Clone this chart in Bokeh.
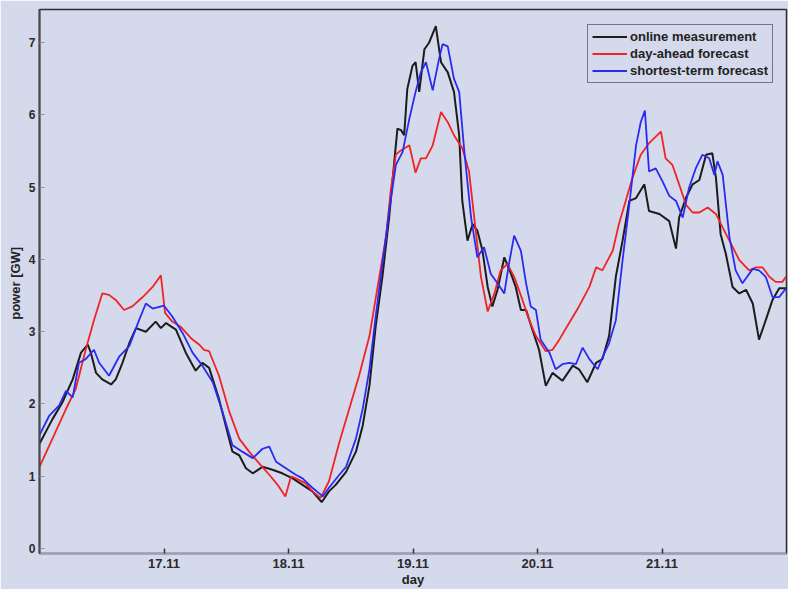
from bokeh.plotting import figure
from bokeh.models import Range1d, FixedTicker, Legend, LegendItem
from bokeh.embed import file_html
from bokeh.resources import INLINE

# ---- data (hours since 16.11 00:00, power in GW) ----
hours_meas = [0, 2.5, 4.4, 6.4, 8.0, 9.3, 9.9, 10.9, 12.1, 13.8, 14.7, 16.0, 17.3, 18.6, 20.5, 22.4,
              23.4, 24.4, 26.3, 28.2, 30.1, 31.4, 32.7, 34.6, 35.9, 37.2, 38.5, 39.8, 41.1, 43.0,
              44.9, 46.8, 48.8, 50.7, 52.6, 54.4, 55.8, 57.1, 59.1, 61.0, 62.3, 63.6, 64.8, 66.1,
              67.4, 68.4, 69.0, 69.7, 70.3, 70.9, 71.9, 72.5, 73.2, 74.2, 75.1, 76.4, 77.4, 78.7,
              79.9, 80.9, 81.5, 82.5, 83.5, 84.4, 85.4, 86.4, 87.3, 88.3, 89.6, 90.9, 91.8, 92.8,
              93.8, 95.0, 96.3, 97.6, 98.9, 100.8, 102.8, 104.0, 105.6, 107.3, 108.5, 109.8, 111.1,
              112.4, 113.7, 115.0, 116.6, 117.5, 119.5, 121.4, 122.7, 123.3, 124.6, 125.9, 127.2,
              128.5, 129.7, 130.4, 131.3, 132.3, 133.6, 134.9, 136.2, 137.5, 138.7, 140.0, 141.3,
              142.6, 143.9]
power_meas = [1.45, 1.79, 2.02, 2.34, 2.71, 2.82, 2.71, 2.43, 2.34, 2.27, 2.34, 2.57, 2.84, 3.05, 3.00, 3.14,
              3.05, 3.12, 3.03, 2.71, 2.46, 2.57, 2.50, 2.07, 1.70, 1.34, 1.29, 1.11, 1.04, 1.13,
              1.09, 1.04, 0.97, 0.88, 0.79, 0.64, 0.79, 0.88, 1.06, 1.34, 1.70, 2.25, 3.07, 3.76,
              4.58, 5.36, 5.81, 5.79, 5.72, 6.36, 6.68, 6.73, 6.32, 6.91, 7.00, 7.23, 6.73, 6.59,
              6.32, 5.72, 4.81, 4.26, 4.49, 4.40, 4.12, 3.62, 3.35, 3.58, 4.03, 3.80, 3.62, 3.30,
              3.30, 3.03, 2.75, 2.25, 2.43, 2.32, 2.53, 2.48, 2.30, 2.57, 2.62, 2.94, 3.76,
              4.26, 4.81, 4.85, 5.04, 4.67, 4.63, 4.53, 4.15, 4.58, 4.85, 5.04, 5.10,
              5.45, 5.47, 5.13, 4.35, 4.08, 3.62, 3.53, 3.58, 3.39, 2.89, 3.16, 3.44,
              3.60, 3.60]

hours_dayahead = [0, 2.5, 5.1, 7.0, 8.9, 10.5, 12.1, 13.4, 14.7, 16.3, 17.9, 19.9, 21.8, 23.4, 24.2, 25.6,
                  27.2, 29.2, 30.8, 31.7, 32.7, 34.6, 36.6, 38.5, 40.4, 42.3, 44.3, 45.9, 47.4, 48.5,
                  49.4, 51.3, 52.6, 54.2, 55.8, 57.8, 59.7, 61.6, 63.6, 65.5, 66.8, 67.7, 68.7, 69.3,
                  71.3, 72.5, 73.5, 74.5, 75.8, 77.4, 78.7, 79.9, 81.5, 82.8, 83.8, 85.1, 86.4, 87.7,
                  88.9, 90.2, 91.5, 93.1, 94.4, 95.7, 97.6, 98.9, 100.2, 102.1, 104.0, 106.0, 107.3,
                  108.5, 110.5, 111.7, 113.0, 114.3, 115.9, 117.5, 118.5, 119.8, 120.7, 122.0, 123.3,
                  124.6, 125.9, 127.2, 128.8, 130.4, 131.7, 133.0, 134.9, 136.8, 138.1, 139.4, 140.7,
                  141.9, 143.2, 143.9]
power_dayahead = [1.13, 1.52, 1.93, 2.21, 2.75, 3.16, 3.53, 3.51, 3.44, 3.30, 3.35, 3.48, 3.62, 3.78, 3.26, 3.14,
                  3.07, 2.91, 2.82, 2.75, 2.73, 2.39, 1.89, 1.52, 1.34, 1.18, 1.02, 0.88, 0.72, 1.00,
                  0.97, 0.90, 0.79, 0.70, 0.93, 1.47, 1.93, 2.39, 2.94, 3.76, 4.31, 4.95, 5.45, 5.49,
                  5.58, 5.20, 5.40, 5.40, 5.58, 6.04, 5.90, 5.72, 5.54, 5.22, 4.58, 3.76, 3.28, 3.53,
                  3.85, 3.94, 3.76, 3.44, 3.16, 2.94, 2.73, 2.75, 2.89, 3.12, 3.35, 3.62, 3.89,
                  3.85, 4.12, 4.49, 4.81, 5.13, 5.45, 5.61, 5.68, 5.77, 5.40, 5.31, 5.04,
                  4.76, 4.65, 4.65, 4.72, 4.63, 4.44, 4.26, 3.99, 3.85, 3.89, 3.89, 3.76,
                  3.69, 3.69, 3.76]

hours_short = [0, 1.9, 3.8, 5.1, 6.4, 7.6, 8.9, 10.5, 11.5, 13.4, 15.4, 17.3, 19.2, 20.5, 21.8, 24.0,
               25.6, 27.6, 29.5, 31.4, 33.4, 35.3, 37.2, 39.1, 41.1, 43.0, 44.3, 45.6, 47.5, 49.4,
               50.7, 52.6, 54.6, 55.8, 57.8, 59.1, 61.0, 62.3, 63.6, 64.8, 66.1, 67.4, 68.7, 70.0,
               71.3, 72.5, 73.5, 74.5, 75.8, 77.0, 77.7, 78.7, 79.9, 80.9, 81.9, 83.2, 84.4, 85.7,
               87.0, 88.3, 89.6, 90.5, 91.5, 92.8, 93.8, 94.7, 95.7, 96.6, 98.3, 99.5, 100.8, 102.1,
               103.4, 104.7, 106.0, 107.6, 108.5, 109.8, 111.1, 112.4, 113.7, 115.0, 115.9, 116.7,
               117.5, 118.8, 120.1, 121.4, 122.7, 124.0, 125.2, 126.5, 127.8, 129.1, 130.1, 130.7,
               131.7, 133.0, 134.2, 135.5, 137.5, 138.7, 140.0, 141.3, 142.6, 143.9]
power_short = [1.57, 1.84, 1.98, 2.18, 2.09, 2.57, 2.62, 2.75, 2.57, 2.39, 2.66, 2.80, 3.16, 3.39, 3.32, 3.36,
               3.21, 2.98, 2.71, 2.53, 2.30, 1.89, 1.43, 1.34, 1.25, 1.38, 1.41, 1.20, 1.11, 1.02,
               0.97, 0.84, 0.72, 0.84, 1.02, 1.13, 1.52, 1.93, 2.48, 3.21, 3.94, 4.67, 5.31, 5.49,
               5.95, 6.32, 6.59, 6.73, 6.34, 6.77, 6.98, 6.95, 6.50, 6.32, 5.49, 4.58, 4.03, 4.17,
               3.80, 3.67, 3.53, 3.94, 4.33, 4.12, 3.67, 3.35, 3.30, 2.89, 2.71, 2.48, 2.55, 2.57,
               2.55, 2.78, 2.62, 2.48, 2.64, 2.84, 3.16, 3.99, 4.76, 5.58, 5.90, 6.06,
               5.22, 5.26, 5.08, 4.88, 4.81, 4.58, 4.99, 5.26, 5.45, 5.40, 5.17, 5.36,
               5.17, 4.31, 3.85, 3.67, 3.87, 3.85, 3.76, 3.48, 3.48, 3.60]

series_names = ["online measurement", "day-ahead forecast", "shortest-term forecast"]
day_ticks = [17, 18, 19, 20, 21]
day_tick_labels = ["17.11", "18.11", "19.11", "20.11", "21.11"]
power_ticks = [0, 1, 2, 3, 4, 5, 6, 7]
start_day = 16

BG = "#d5d9ec"
FONT = "Liberation Sans"

p = figure(width=788, height=589, output_backend="svg", toolbar_location=None,
           x_range=Range1d(16, 22), y_range=Range1d(-0.07, 7.46),
           background_fill_color=BG, border_fill_color=BG,
           min_border_left=39, min_border_right=2, min_border_top=9, min_border_bottom=31)
p.grid.visible = False
p.outline_line_color = "#2e2e2e"
p.outline_line_width = 1.5

def to_days(hours):
    return [start_day + h / 24.0 for h in hours]

r_meas = p.line(to_days(hours_meas), power_meas, line_color="#1c1c1c", line_width=2)
r_da = p.line(to_days(hours_dayahead), power_dayahead, line_color="#f02424", line_width=1.8)
r_st = p.line(to_days(hours_short), power_short, line_color="#2b2bf0", line_width=1.8)

# bottom axis
xa = p.xaxis[0]
xa.ticker = FixedTicker(ticks=day_ticks)
xa.major_label_overrides = {t: l for t, l in zip(day_ticks, day_tick_labels)}
xa.minor_tick_line_color = None
xa.major_tick_in = 5
xa.major_tick_out = 0
xa.major_tick_line_color = "#333333"
xa.major_tick_line_width = 1.5
xa.axis_line_color = "#9ca1b6"
xa.axis_line_width = 2
xa.major_label_standoff = 5
xa.major_label_text_font = FONT
xa.major_label_text_font_style = "bold"
xa.major_label_text_font_size = "13px"
xa.major_label_text_color = "#2a2a2a"
xa.axis_label = "day"
xa.axis_label_text_font = FONT
xa.axis_label_text_font_style = "bold"
xa.axis_label_text_font_size = "13px"
xa.axis_label_text_color = "#222222"
xa.axis_label_standoff = 1

# left axis
ya = p.yaxis[0]
ya.ticker = FixedTicker(ticks=power_ticks)
ya.minor_tick_line_color = None
ya.major_tick_in = 5
ya.major_tick_out = 0
ya.major_tick_line_color = "#8a8fa0"
ya.axis_line_color = "#4a4a4a"
ya.axis_line_width = 2
ya.major_label_standoff = 4
ya.major_label_text_font = FONT
ya.major_label_text_font_style = "bold"
ya.major_label_text_font_size = "12px"
ya.major_label_text_color = "#2a2a2a"
ya.axis_label = "power  [GW]"
ya.axis_label_text_font = FONT
ya.axis_label_text_font_style = "bold"
ya.axis_label_text_font_size = "13px"
ya.axis_label_text_color = "#222222"
ya.axis_label_standoff = 3

legend = Legend(items=[LegendItem(label=series_names[0], renderers=[r_meas]),
                       LegendItem(label=series_names[1], renderers=[r_da]),
                       LegendItem(label=series_names[2], renderers=[r_st])],
                location=(548, 470), margin=0, padding=4, spacing=2,
                glyph_width=35, glyph_height=15, label_height=15, label_standoff=3,
                label_text_font=FONT, label_text_font_style="bold",
                label_text_font_size="13px", label_text_color="#222222",
                border_line_color="#111111", border_line_width=1.5,
                background_fill_color=BG, background_fill_alpha=1.0)
p.add_layout(legend)

open("out.html", "w").write(file_html(p, INLINE))
